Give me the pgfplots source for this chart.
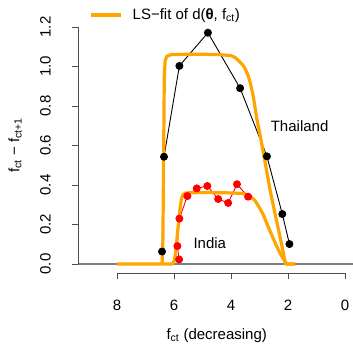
\documentclass[border=0pt]{standalone}
\usepackage{pgfplots}
\pgfplotsset{compat=1.18}
\usepackage{fontspec}
\setmainfont{Liberation Sans}
\definecolor{rorange}{HTML}{FFA500}
\definecolor{rred}{HTML}{FF0000}
\definecolor{axcol}{HTML}{4D4D4D}
\begin{document}
\begin{tikzpicture}[font=\fontsize{15}{18}\selectfont]
\useasboundingbox (-78.2pt,-70.5pt) rectangle (274.8pt,273.5pt);
\begin{axis}[
  at={(0,0)}, anchor=south west,
  scale only axis, width=277.1pt, height=256pt,
  xmin=-0.36, xmax=9.36, x dir=reverse,
  ymin=-0.048, ymax=1.248,
  axis x line*=bottom, axis y line*=left,
  axis line style={draw=none},
  clip=false,
  xtick={0,2,4,6,8}, ytick={0,0.2,0.4,0.6,0.8,1.0,1.2},
  tick align=outside, major tick length=6pt,
  tick style={axcol, line width=0.8pt},
  /pgf/number format/assume math mode=true,
  yticklabel style={rotate=90, anchor=south, /pgf/number format/.cd, fixed, fixed zerofill, precision=1},
  xticklabel style={anchor=north},
  xticklabel shift=17pt,
  yticklabel shift=18pt,
  xlabel={f\textsubscript{ct} (decreasing)},
  ylabel={f\textsubscript{ct} − f\textsubscript{ct+1}},
  every axis x label/.style={at={(axis description cs:0.5,-0.242)}, anchor=center},
  every axis y label/.style={at={(axis description cs:-0.228,0.5)}, anchor=center, rotate=90},
  legend style={draw=none, fill=none, at={(axis description cs:0.04,1.0098)}, anchor=west, inner sep=0pt,
    legend image code/.code={\draw[#1] (0pt,0pt) -- (30pt,0pt);}},
  legend cell align=left,
]
% zero line
\addplot[gray, line width=1.3pt, forget plot] coordinates {(9.36,0) (-0.36,0)};
% Thailand data
\addplot[black, line width=0.9pt, mark=*, mark size=3.5pt, mark options={solid, fill=black}, forget plot] coordinates {
(6.42,0.063) (6.35,0.543) (5.81,1.003) (4.81,1.171) (3.68,0.890) (2.74,0.545) (2.20,0.253) (1.95,0.101)};
% India data
\addplot[rred, line width=0.9pt, mark=*, mark size=3.5pt, mark options={solid, fill=rred, draw=rred}, forget plot] coordinates {
(5.82,0.023) (5.88,0.091) (5.81,0.230) (5.53,0.344) (5.20,0.383) (4.83,0.395) (4.45,0.329) (4.10,0.309) (3.79,0.404) (3.40,0.341)};
% Thailand fit
\addplot[rorange, line width=3.2pt, line join=round] coordinates {
(8,0) (6.42,0) (6.39,0.1) (6.36,0.6) (6.34,0.95) (6.31,1.03) (6.25,1.052) (6.1,1.06) (5.5,1.062) (5.0,1.062) (4.4,1.06)
(4.0,1.055) (3.85,1.045) (3.74,1.03) (3.6,1.01) (3.51,0.99) (3.4,0.955) (3.33,0.92) (3.22,0.85) (3.1,0.74) (2.95,0.63)
(2.81,0.52) (2.63,0.375) (2.46,0.257) (2.28,0.138) (2.16,0.054) (2.11,0.012) (2.08,0) (1.75,0)};
\addlegendentry{\hspace*{8pt}LS−fit of d(\textbf{θ}, f\textsubscript{ct})}
% India fit
\addplot[rorange, line width=3.2pt, line join=round, forget plot] coordinates {
(6.4,0) (6.05,0) (5.98,0.02) (5.93,0.08) (5.86,0.18) (5.79,0.28) (5.74,0.33) (5.68,0.352) (5.58,0.36) (5.0,0.362) (4.0,0.36)
(3.6,0.357) (3.45,0.352) (3.3,0.34) (3.15,0.32) (3.0,0.285) (2.87,0.25) (2.7,0.19) (2.52,0.13) (2.35,0.075) (2.2,0.035)
(2.1,0.012) (2.05,0) (1.75,0)};
% axis lines (R style: from first to last tick)
\draw[axcol, line width=0.8pt] (axis cs:8,-0.048) -- (axis cs:0,-0.048);
\draw[axcol, line width=0.8pt] (axis cs:9.36,0) -- (axis cs:9.36,1.2);
\node[anchor=west, inner sep=0pt] at (axis cs:2.61,0.699) {Thailand};
\node[anchor=west, inner sep=0pt] at (axis cs:5.32,0.105) {India};
\end{axis}
\end{tikzpicture}
\end{document}
